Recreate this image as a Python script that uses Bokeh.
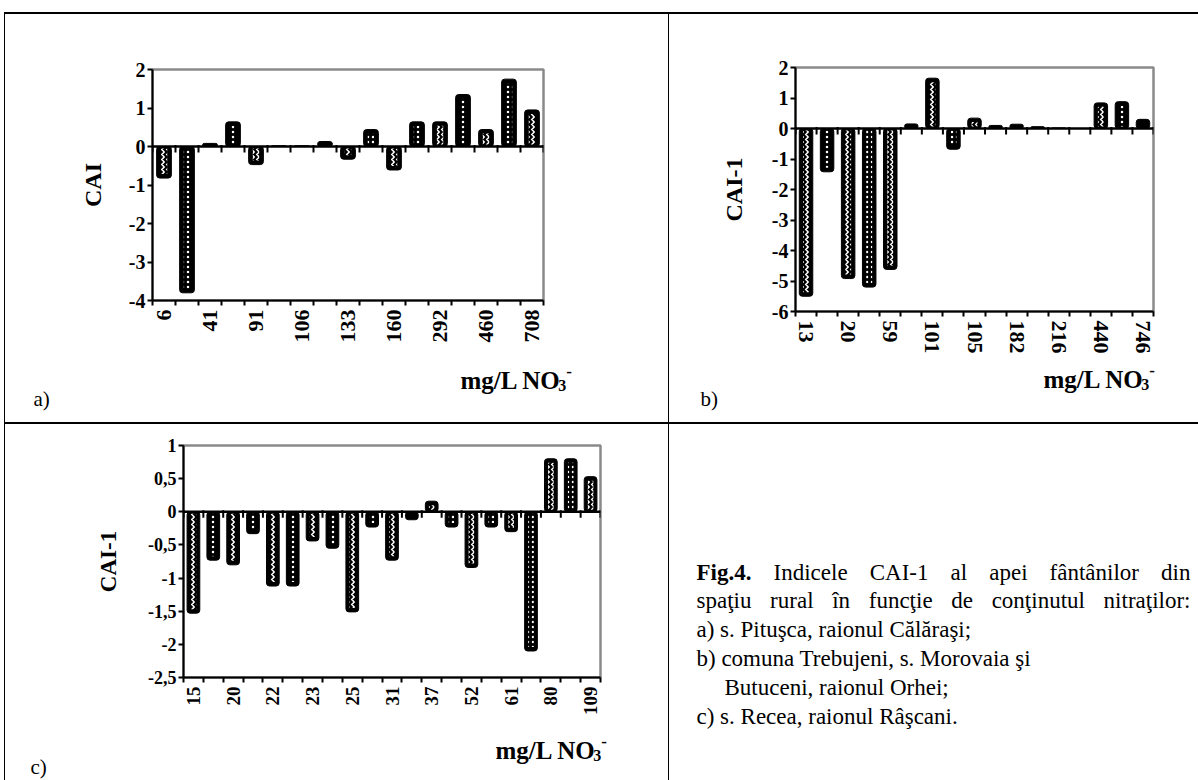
import math
from bokeh.plotting import figure
from bokeh.models import FixedTicker, Label, Span, Range1d, Spacer, ColumnDataSource
from bokeh.layouts import row, column
from bokeh.embed import file_html
from bokeh.resources import INLINE

# ---------------- data ----------------
a_labels = ["6", "", "41", "", "91", "", "106", "", "133", "", "160", "", "292", "", "460", "", "708"]
a_values = [-0.82, -3.80, 0.08, 0.64, -0.47, 0.02, 0.02, 0.13, -0.33, 0.44, -0.61, 0.64, 0.64, 1.35, 0.44, 1.75, 0.95]

b_labels = ["13", "", "20", "", "59", "", "101", "", "105", "", "182", "", "216", "", "440", "", "746"]
b_values = [-5.50, -1.42, -4.92, -5.20, -4.62, 0.15, 1.65, -0.68, 0.34, 0.10, 0.14, 0.06, 0.02, 0.0, 0.84, 0.88, 0.30]

c_labels = ["15", "", "20", "", "22", "", "23", "", "25", "", "31", "", "37", "", "52", "", "61", "", "80", "", "109"]
c_values = [-1.53, -0.73, -0.80, -0.33, -1.12, -1.12, -0.44, -0.55, -1.51, -0.23, -0.73, -0.12, 0.16,
            -0.23, -0.84, -0.23, -0.30, -2.10, 0.80, 0.80, 0.53]

a_yticks = [-4, -3, -2, -1, 0, 1, 2]
b_yticks = [-6, -5, -4, -3, -2, -1, 0, 1, 2]
c_yticks = [-2.5, -2, -1.5, -1, -0.5, 0, 0.5, 1]
c_ytick_text = ["-2,5", "-2", "-1,5", "-1", "-0,5", "0", "0,5", "1"]

x_title = "mg/L NO"
cap_bold = "Fig.4."
cap_line1 = ["Indicele", "CAI-1", "al", "apei", "fântânilor", "din"]
cap_line2 = ["spaţiu", "rural", "în", "funcţie", "de", "conţinutul", "nitraţilor:"]
cap_rest = ["a) s. Pituşca, raionul Călăraşi;",
            "b) comuna Trebujeni, s. Morovaia şi",
            "Butuceni, raionul Orhei;",
            "c) s. Recea, raionul Râşcani."]

SERIF = "Liberation Serif"
PATTERNS = ["vertical_wave", "dot"]

# Times metrics (em/1000) used only to justify caption lines
TW = dict(zip("abcdefghijklmnopqrstuvwxyz",
              [444, 500, 444, 500, 444, 333, 500, 500, 278, 278, 500, 278, 778, 500, 500, 500,
               500, 333, 389, 278, 500, 500, 722, 500, 500, 444]))
TW.update({"C": 667, "A": 722, "I": 333, "-": 333, "1": 500, ":": 278, ",": 250, ".": 250,
           "â": 444, "ă": 444, "î": 278, "ş": 389, "ţ": 278, " ": 250})
TWB = {"F": 611, "i": 278, "g": 500, ".": 250, "4": 500, "m": 833, "/": 278, "L": 667,
       " ": 250, "N": 722, "O": 778}


def tw(s, table, size):
    return sum(table.get(ch, 500) for ch in s) / 1000.0 * size


def base_fig(w, h, **kw):
    p = figure(width=w, height=h, output_backend="svg", toolbar_location=None, **kw)
    p.frame_align = False
    return p


def text_fig(w, h):
    p = base_fig(w, h, x_range=Range1d(0, w), y_range=Range1d(h, 0), x_axis_type=None,
                 y_axis_type=None, min_border=0)
    p.outline_line_color = None
    p.grid.visible = False
    return p


def add_text(p, x, y, text, size, bold=False, align="left", baseline="middle"):
    p.add_layout(Label(x=x, y=y, text=text, text_align=align, text_baseline=baseline,
                       text_font=SERIF, text_font_style="bold" if bold else "normal",
                       text_font_size=size, text_color="black"))


def make_chart(values, labels, yticks, ytext, ylim, width, height, frame, orient,
               ysize, xsize, ytitle, tsize, tstand):
    L, R, T, B = frame
    n = len(values)
    ymin, ymax = ylim
    p = base_fig(width, height, x_range=Range1d(0.5, n + 0.5), y_range=Range1d(ymin, ymax),
                 min_border_left=L, min_border_right=width - R,
                 min_border_top=T, min_border_bottom=height - B)
    p.xgrid.visible = False
    p.ygrid.visible = False
    p.outline_line_color = "#8a8a8a"
    p.outline_line_width = 2.5
    p.background_fill_color = "white"
    p.border_fill_color = "white"

    ppu = (B - T) / (ymax - ymin)

    ya = p.yaxis[0]
    ya.ticker = FixedTicker(ticks=yticks, minor_ticks=[])
    ya.major_label_overrides = {t: s for t, s in zip(yticks, ytext)}
    ya.axis_line_width = 2
    ya.axis_line_color = "black"
    ya.major_tick_in = 0
    ya.major_tick_out = 5
    ya.major_tick_line_width = 2
    ya.minor_tick_out = 0
    ya.major_label_standoff = 2
    ya.major_label_text_font = SERIF
    ya.major_label_text_font_style = "bold"
    ya.major_label_text_font_size = ysize
    ya.major_label_text_color = "black"
    ya.axis_label = ytitle
    ya.axis_label_text_font = SERIF
    ya.axis_label_text_font_style = "bold"
    ya.axis_label_text_font_size = tsize
    ya.axis_label_text_color = "black"
    ya.axis_label_standoff = tstand

    xa = p.xaxis[0]
    centers = [i + 1 for i, s in enumerate(labels) if s]
    bounds = [i + 0.5 for i in range(n + 1)]
    xa.ticker = FixedTicker(ticks=centers, minor_ticks=bounds)
    xa.major_label_overrides = {i + 1: s for i, s in enumerate(labels) if s}
    xa.axis_line_width = 2
    xa.axis_line_color = "black"
    xa.major_tick_in = 0
    xa.major_tick_out = 0
    xa.minor_tick_in = 0
    xa.minor_tick_out = 5
    xa.minor_tick_line_width = 2
    xa.minor_tick_line_color = "black"
    xa.major_label_orientation = orient
    xa.major_label_standoff = 4
    xa.major_label_text_font = SERIF
    xa.major_label_text_font_style = "bold"
    xa.major_label_text_font_size = xsize
    xa.major_label_text_color = "black"

    xs = list(range(1, n + 1))
    p.vbar(x=xs, top=values, bottom=0, width=0.64, fill_color="black", line_color="black",
           line_width=1, border_radius=3)
    ix, itop, ibot, pat = [], [], [], []
    for i, v in enumerate(values):
        if abs(v) * ppu > 10:
            s = 1 if v > 0 else -1
            ix.append(i + 1)
            itop.append(v - s * 4 / ppu)
            ibot.append(s * 2 / ppu)
            pat.append(PATTERNS[i % len(PATTERNS)])
    src = ColumnDataSource(dict(x=ix, top=itop, bottom=ibot, pat=pat))
    p.vbar(x="x", top="top", bottom="bottom", width=0.28, source=src, fill_alpha=0,
           line_alpha=0, hatch_pattern="pat", hatch_color="white", hatch_scale=5,
           hatch_weight=1.5)

    p.add_layout(Span(location=0, dimension="width", line_color="black", line_width=2.5))
    p.segment(x0=bounds, x1=bounds, y0=[1.5 / ppu] * len(bounds), y1=[-6 / ppu] * len(bounds),
              line_color="black", line_width=2)
    return p


def under_fig(w, h, mx, my, panel, px, py):
    t = text_fig(w, h)
    add_text(t, mx, my, x_title, "25px", bold=True, baseline="alphabetic")
    wmain = tw(x_title, TWB, 25) - 3
    add_text(t, mx + wmain, my + 5, "3", "16px", bold=True, baseline="alphabetic")
    add_text(t, mx + wmain + 8, my - 9, "-", "17px", bold=True, baseline="alphabetic")
    add_text(t, px, py, panel, "21px")
    return t


fa = make_chart(a_values, a_labels, a_yticks, [str(t) for t in a_yticks], (-4, 2), 663, 340,
                (147, 538, 55, 286), math.pi / 2, "20px", "22px", "CAI", "24px", 20)
ta = under_fig(663, 68, 455, 26, "a)", 28, 44)

fb = make_chart(b_values, b_labels, b_yticks, [str(t) for t in b_yticks], (-6, 2), 529, 342,
                (126, 484, 53, 298), -math.pi / 2, "20px", "22px", "CAI-1", "24px", 22)
tb = under_fig(529, 66, 374, 23, "b)", 31, 42)

fc = make_chart(c_values, c_labels, c_yticks, c_ytick_text, (-2.5, 1), 663, 296,
                (178, 595, 21, 253), math.pi / 2, "18px", "19px", "CAI-1", "23px", 24)
tc = under_fig(663, 60, 490, 30, "c)", 25, 46)

# caption panel
fcap = text_fig(529, 356)
CS = 23
cap_left, cap_right = 27, 521
cap_y = [148, 176, 205, 234, 263, 292]

# line 1 (justified, bold lead)
w_lead = tw(cap_bold, TWB, CS)
w_words = [tw(wd, TW, CS) for wd in cap_line1]
gap = (cap_right - cap_left - w_lead - sum(w_words)) / len(cap_line1)
add_text(fcap, cap_left, cap_y[0], cap_bold, f"{CS}px", bold=True)
x = cap_left + w_lead + gap
for wd, ww in zip(cap_line1, w_words):
    add_text(fcap, x, cap_y[0], wd, f"{CS}px")
    x += ww + gap

# line 2 (justified)
w_words = [tw(wd, TW, CS) for wd in cap_line2]
gap = (cap_right - cap_left - sum(w_words)) / (len(cap_line2) - 1)
x = cap_left
for wd, ww in zip(cap_line2, w_words):
    add_text(fcap, x, cap_y[1], wd, f"{CS}px")
    x += ww + gap

for k, line in enumerate(cap_rest):
    xk = cap_left + 28 if k == 2 else cap_left
    add_text(fcap, xk, cap_y[k + 2], line, f"{CS}px")


def bar(w, h):
    return Spacer(width=w, height=h, styles={"background-color": "black"})


layout = column(
    Spacer(width=1198, height=12),
    row(Spacer(width=4, height=2), bar(1194, 2)),
    row(Spacer(width=4, height=408), bar(1, 408), column(fa, ta), bar(1, 408), column(fb, tb)),
    row(Spacer(width=4, height=2), bar(1194, 2)),
    row(Spacer(width=4, height=356), bar(1, 356), column(fc, tc), bar(1, 356), fcap),
)

open("out.html", "w").write(file_html(layout, INLINE))
